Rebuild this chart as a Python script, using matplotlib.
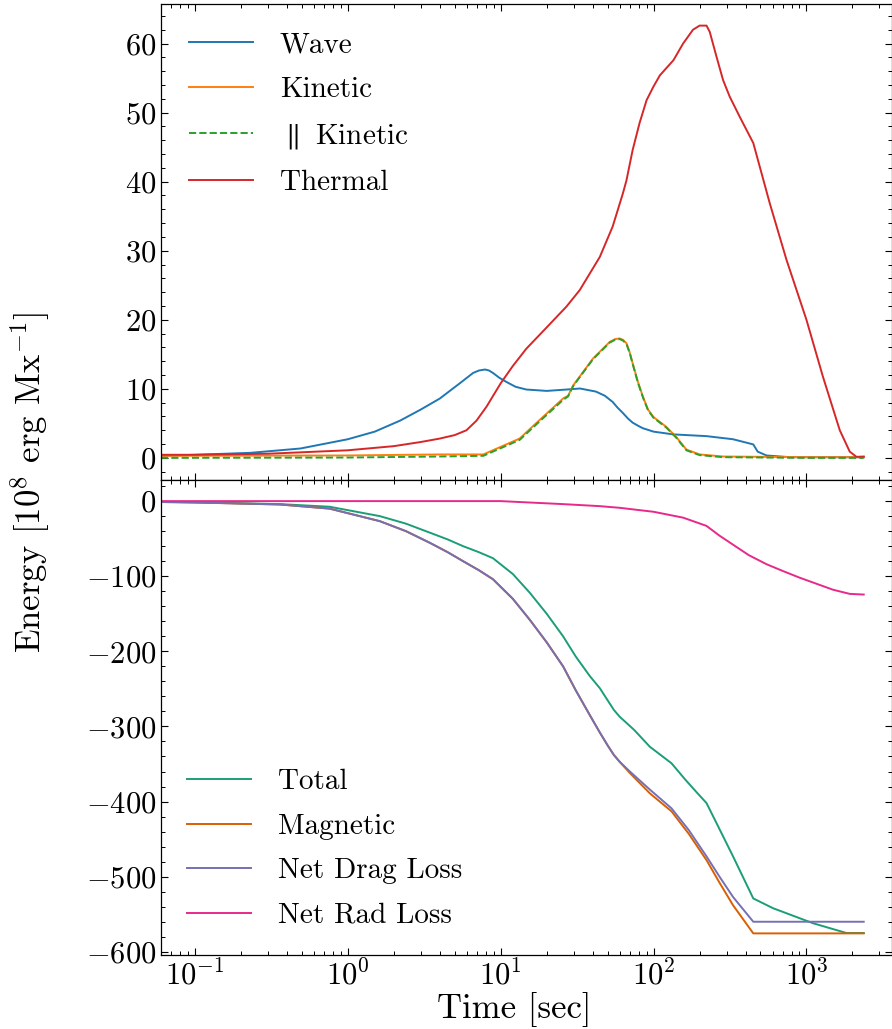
import matplotlib as mpl
mpl.use('Agg')
import matplotlib.pyplot as plt
from matplotlib.ticker import AutoMinorLocator

mpl.rcParams['font.family'] = 'serif'
mpl.rcParams['font.serif'] = ['cmr10']
mpl.rcParams['mathtext.fontset'] = 'cm'
mpl.rcParams['axes.formatter.use_mathtext'] = True
mpl.rcParams['axes.unicode_minus'] = True

# --- top panel: energies ---
t_wave = [0.06, 0.1, 0.23, 0.49, 1.0, 1.5, 2.2, 3.0, 4.0, 5.4, 6.6, 7.2, 7.9, 8.4, 8.9,
          9.8, 10.9, 12.5, 14.7, 20, 27, 33, 42, 48, 54, 58, 63, 68, 73, 80, 85, 100,
          135, 222, 331, 449, 465, 480, 548, 780, 2370]
wave = [0.3, 0.45, 0.73, 1.36, 2.7, 3.8, 5.4, 7.0, 8.6, 10.8, 12.3, 12.65, 12.8, 12.65, 12.3,
        11.6, 11.0, 10.3, 9.9, 9.7, 9.9, 10.05, 9.6, 9.0, 8.1, 7.3, 6.5, 5.7, 5.1, 4.6, 4.3, 3.8,
        3.4, 3.15, 2.7, 1.95, 1.4, 0.9, 0.35, 0.1, 0.1]

t_thermal = [0.06, 0.1, 0.3, 1.0, 2.0, 3.0, 4.0, 5.0, 5.97, 6.95, 8.07, 10, 12, 14.7, 20,
             26.9, 32.9, 44.5, 54, 63, 66.5, 73, 81, 90, 100, 110, 135, 156, 181, 200,
             222, 233, 258, 285, 315, 366, 449, 575, 740, 1000, 1284, 1652, 1920,
             2126, 2370]
thermal = [0.45, 0.45, 0.6, 1.1, 1.7, 2.3, 2.8, 3.3, 4.0, 5.4, 7.4, 10.8, 13.3, 15.8, 18.9,
           21.9, 24.3, 29.1, 33.5, 38.3, 40.2, 44.6, 48.5, 51.8, 53.8, 55.4, 57.6, 60.0, 62.0, 62.6,
           62.6, 61.7, 58.1, 54.7, 52.3, 49.4, 45.6, 36.9, 28.7, 20.0, 11.7, 4.0, 0.9,
           0.15, 0.2]

t_kin = [0.06, 1.0, 4.0, 7.7, 10, 13.3, 18, 25.6, 27.6, 29.8, 40.2, 51.7, 56, 60, 63,
         66.5, 70, 73, 79, 85.4, 92, 100, 121, 141, 164, 200, 285, 1000, 2370]
kinetic = [0.3, 0.35, 0.5, 0.5, 1.6, 2.8, 5.5, 8.6, 9.0, 10.5, 14.4, 16.8, 17.2, 17.3, 17.1,
           16.6, 15.2, 13.7, 11.0, 8.8, 7.0, 5.9, 4.5, 3.0, 1.2, 0.5, 0.2, 0.1, 0.1]
par_kinetic = [0.0, 0.05, 0.2, 0.3, 1.4, 2.6, 5.3, 8.4, 8.9, 10.4, 14.3, 16.7, 17.1, 17.2, 17.0,
               16.5, 15.1, 13.6, 10.9, 8.7, 6.9, 5.8, 4.4, 2.9, 1.1, 0.4, 0.1, 0.0, 0.0]

# --- bottom panel: budget ---
t_total = [0.06, 0.1, 0.36, 0.76, 1.62, 2.4, 3.44, 4.5, 5.68, 7.2, 8.9, 12, 15.5, 20,
           25.6, 31, 38.3, 44.5, 50, 55, 60, 75, 94.5, 131, 160, 190, 222, 260, 331,
           449, 605, 1105, 1827, 2370]
total = [-1, -1.5, -4, -7.5, -20, -30, -42, -51, -60, -68, -76, -97, -122, -150,
         -180, -207, -233, -249, -265, -278, -287, -305, -327, -349, -370, -387, -402, -430, -473,
         -529, -542, -562, -575, -575]

t_mag = [0.06, 0.1, 0.36, 0.76, 1.62, 2.4, 3.44, 4.5, 5.68, 7.2, 8.9, 12, 15.5, 20,
         25.6, 31, 38.3, 44.5, 50, 55, 60, 70, 94.5, 131, 170, 222, 270, 331, 449, 2370]
magnetic = [-1.2, -1.8, -4.5, -10, -26.7, -40, -55.5, -68, -80, -92, -104, -130, -158, -188,
            -220, -252, -285, -308, -325, -338, -347, -362, -389, -413, -443, -478, -508, -538,
            -575.5, -575.5]
drag = [-1.2, -1.8, -4.5, -10, -26.7, -40, -55.5, -68, -80, -92, -104, -130, -158, -188,
        -220, -252, -285, -308, -325, -338, -347, -360, -384, -409, -438, -473, -500, -527,
        -560, -560]

t_rad = [0.06, 10, 25.6, 44.5, 60, 100, 156, 222, 270, 331, 420, 548, 700, 904, 1493,
         1920, 2370]
rad = [0, 0, -4, -6.7, -8.9, -14.2, -22, -33, -46, -58, -72, -84, -93, -102, -118,
       -123.5, -124.4]

LW = 1.4
FS_TICK = 22
FS_LEG = 21
FS_LAB = 25


def style_axis(ax):
    ax.set_xscale('log')
    ax.tick_params(which='both', direction='in', top=True, right=True,
                   labelsize=FS_TICK)
    ax.tick_params(which='major', length=5, width=0.8)
    ax.tick_params(which='minor', length=2.8, width=0.7)
    ax.yaxis.set_minor_locator(AutoMinorLocator(5))
    for s in ax.spines.values():
        s.set_linewidth(0.9)


fig, (ax1, ax2) = plt.subplots(2, 1, sharex=True, figsize=(8.92, 10.29), dpi=100)
fig.subplots_adjust(left=161/892, right=891.5/892, top=1-4/1029,
                    bottom=1-955/1029, hspace=0)

ax1.plot(t_wave, wave, color='tab:blue', lw=LW, label='Wave')
ax1.plot(t_kin, kinetic, color='tab:orange', lw=LW, label='Kinetic')
ax1.plot(t_kin, par_kinetic, color='tab:green', lw=LW, ls='--',
         label=r'$\parallel$ Kinetic')
ax1.plot(t_thermal, thermal, color='tab:red', lw=LW, label='Thermal')
style_axis(ax1)
ax1.set_yticks([0, 10, 20, 30, 40, 50, 60])
ax1.legend(loc='upper left', frameon=False, fontsize=FS_LEG, handlelength=2.2,
           handletextpad=0.92, labelspacing=0.64, borderaxespad=0.55)

ax2.plot(t_total, total, color='#1b9e77', lw=LW, label='Total')
ax2.plot(t_mag, magnetic, color='#d95f02', lw=LW, label='Magnetic')
ax2.plot(t_mag, drag, color='#7570b3', lw=LW, label='Net Drag Loss')
ax2.plot(t_rad, rad, color='#e7298a', lw=LW, label='Net Rad Loss')
style_axis(ax2)
ax2.set_yticks([0, -100, -200, -300, -400, -500, -600])
ax2.legend(loc='lower left', frameon=False, fontsize=FS_LEG, handlelength=2.2,
           handletextpad=0.92, labelspacing=0.62, borderaxespad=0.5)

ax2.set_xlim(0.06, 3600)
ax2.set_xlabel('Time [sec]', fontsize=FS_LAB)
ax2.xaxis.set_label_coords(0.483, -0.078)
fig.text(30/892, 1-482/1029, r'Energy [$10^8$ erg Mx$^{-1}$]', rotation=90,
         ha='center', va='center', fontsize=FS_LAB)

plt.savefig('out.png', dpi=100)
